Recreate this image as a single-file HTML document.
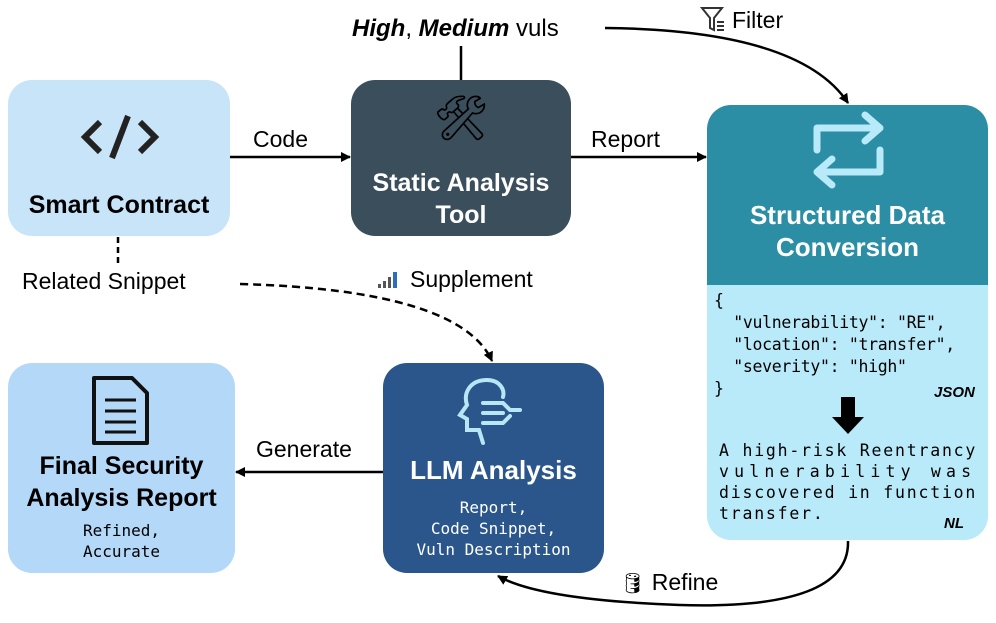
<!DOCTYPE html>
<html><head><style>
body{margin:0;width:996px;height:623px;background:#fff;position:relative;overflow:hidden;font-family:"Liberation Sans",sans-serif}
.b{position:absolute;border-radius:24px;box-sizing:border-box}
.t{position:absolute;white-space:nowrap}
.mono{font-family:"DejaVu Sans Mono","Liberation Mono",monospace}
.j{height:21px;white-space:nowrap}
</style></head><body>
<svg width="996" height="623" style="position:absolute;left:0;top:0">
<defs><marker id="a" markerWidth="10" markerHeight="10" refX="9" refY="5" orient="auto" markerUnits="userSpaceOnUse"><path d="M0,0 L10,5 L0,10 z" fill="#000"/></marker></defs>
<line x1="230" y1="157" x2="350" y2="157" stroke="#000" stroke-width="2.5" marker-end="url(#a)"/>
<line x1="571" y1="157" x2="706" y2="157" stroke="#000" stroke-width="2.5" marker-end="url(#a)"/>
<line x1="383" y1="472" x2="236" y2="472" stroke="#000" stroke-width="2.5" marker-end="url(#a)"/>
<line x1="461" y1="46" x2="461" y2="80" stroke="#000" stroke-width="2.5"/>
<line x1="118" y1="237" x2="118" y2="264" stroke="#000" stroke-width="2.5" stroke-dasharray="6,4"/>
<path d="M605,28 Q800,30 848,103" fill="none" stroke="#000" stroke-width="2.5" marker-end="url(#a)"/>
<path d="M240,284 Q460,290 492,361" fill="none" stroke="#000" stroke-width="2.5" stroke-dasharray="8,5" marker-end="url(#a)"/>
<path d="M848,541 Q850,610 680,605 Q540,600 498,576" fill="none" stroke="#000" stroke-width="2.5" marker-end="url(#a)"/>
<g transform="translate(700,6)" fill="none" stroke="#333" stroke-width="2"><path d="M2,2 H22 L14,12 V24 L10,22 V12 z"/><line x1="17" y1="16" x2="24" y2="16"/><line x1="17" y1="20" x2="24" y2="20"/><line x1="17" y1="24" x2="24" y2="24"/></g>
<g transform="translate(378,272)"><rect x="0" y="12" width="3" height="4" fill="#555"/><rect x="5" y="9" width="3" height="7" fill="#555"/><rect x="10" y="5" width="3" height="11" fill="#555"/><rect x="15" y="0" width="4" height="16" fill="#2b6cc4"/></g>
</svg>
<div class="b" style="left:8px;top:80px;width:222px;height:156px;background:#c8e4f8"></div>
<svg style="position:absolute;left:80px;top:112px" width="80" height="50"><g fill="none" stroke="#222" stroke-width="6"><path d="M20,10 L5,25 L20,40"/><path d="M60,10 L75,25 L60,40"/><path d="M48,4 L32,46"/></g></svg>
<div class="t" style="left:8px;width:222px;text-align:center;top:191px;font-size:25px;font-weight:bold">Smart Contract</div>
<div class="b" style="left:351px;top:80px;width:220px;height:156px;background:#3b4e5c"></div>
<div class="t" style="left:351px;width:220px;text-align:center;top:92px;font-size:44px">🛠</div>
<div class="t" style="left:351px;width:220px;text-align:center;top:167px;font-size:25px;font-weight:bold;color:#fff;line-height:32px">Static Analysis<br>Tool</div>
<div class="b" style="left:707px;top:105px;width:281px;height:435px;background:#b8eaf9;overflow:hidden">
<div style="height:180px;background:#2b8ea5"></div></div>
<svg style="position:absolute;left:805px;top:110px" width="85" height="80"><g fill="none" stroke="#b8eaf9" stroke-width="7" stroke-linecap="round" stroke-linejoin="round"><path d="M12,40 V18 H75 M60,5 L75,18 L60,31"/><path d="M75,40 V62 H12 M27,49 L12,62 L27,75"/></g></svg>
<div class="t" style="left:707px;width:281px;text-align:center;top:199px;font-size:26px;font-weight:bold;color:#fff;line-height:32px">Structured Data<br>Conversion</div>
<div class="t mono" style="left:714px;top:290px;font-size:16.5px;line-height:22px;letter-spacing:-0.3px">{<br>&nbsp;&nbsp;"vulnerability": "RE",<br>&nbsp;&nbsp;"location": "transfer",<br>&nbsp;&nbsp;"severity": "high"<br>}</div>
<div class="t" style="left:934px;top:384px;font-size:15px;font-weight:bold;font-style:italic">JSON</div>
<svg style="position:absolute;left:832px;top:397px" width="32" height="38"><path d="M9,0 H23 V20 H32 L16,37 L0,20 H9 z" fill="#000"/></svg>
<div class="mono" style="position:absolute;left:719px;top:440px;width:262px;font-size:16.5px;line-height:21px">
<div class="j" style="letter-spacing:1.8px">A high-risk Reentrancy</div><div class="j" style="letter-spacing:5.2px">vulnerability was</div><div class="j" style="letter-spacing:1.8px">discovered in function</div><div class="j" style="letter-spacing:1.8px">transfer.</div></div>
<div class="t" style="left:944px;top:515px;font-size:15px;font-weight:bold;font-style:italic">NL</div>
<div class="b" style="left:383px;top:363px;width:221px;height:210px;background:#2b568c"></div>
<svg style="position:absolute;left:455px;top:375px" width="75" height="75"><g fill="none" stroke="#b8e6f5" stroke-width="4" stroke-linecap="round"><path d="M32,5 C15,5 8,18 12,30 L5,40 L12,44 L12,55 L24,55 L28,68"/><path d="M32,5 C45,5 50,15 48,22"/><path d="M28,28 H48 L55,35 H65 M28,38 H48 M28,48 H48 L55,41"/></g></svg>
<div class="t" style="left:383px;width:221px;text-align:center;top:455px;font-size:26px;font-weight:bold;color:#fff">LLM Analysis</div>
<div class="t mono" style="left:383px;width:221px;text-align:center;top:497px;font-size:16px;line-height:21px;color:#fff">Report,<br>Code Snippet,<br>Vuln Description</div>
<div class="b" style="left:8px;top:363px;width:227px;height:210px;background:#b3d8f8"></div>
<svg style="position:absolute;left:90px;top:375px" width="62" height="72"><path d="M4,3 H42 L57,18 V68 H4 z" fill="none" stroke="#111" stroke-width="4" stroke-linejoin="round"/><g stroke="#111" stroke-width="3"><line x1="15" y1="25" x2="46" y2="25"/><line x1="15" y1="36" x2="46" y2="36"/><line x1="15" y1="47" x2="46" y2="47"/><line x1="15" y1="57" x2="46" y2="57"/></g></svg>
<div class="t" style="left:8px;width:227px;text-align:center;top:450px;font-size:25px;font-weight:bold;line-height:32px">Final Security<br>Analysis Report</div>
<div class="t mono" style="left:8px;width:227px;text-align:center;top:520px;font-size:16px;line-height:21px">Refined,<br>Accurate</div>
<div class="t" style="left:253px;top:126px;font-size:23px">Code</div>
<div class="t" style="left:591px;top:126px;font-size:23px">Report</div>
<div class="t" style="left:256px;top:436px;font-size:23px">Generate</div>
<div class="t" style="left:352px;top:15px;font-size:24px"><b><i>High</i></b>, <b><i>Medium</i></b> vuls</div>
<div class="t" style="left:732px;top:7px;font-size:23px">Filter</div>
<div class="t" style="left:22px;top:268px;font-size:23px">Related Snippet</div>
<div class="t" style="left:410px;top:266px;font-size:23px">Supplement</div>
<div class="t" style="left:620px;top:569px;font-size:23px"><span style="font-size:20px">🛢</span> Refine</div>
</body></html>
